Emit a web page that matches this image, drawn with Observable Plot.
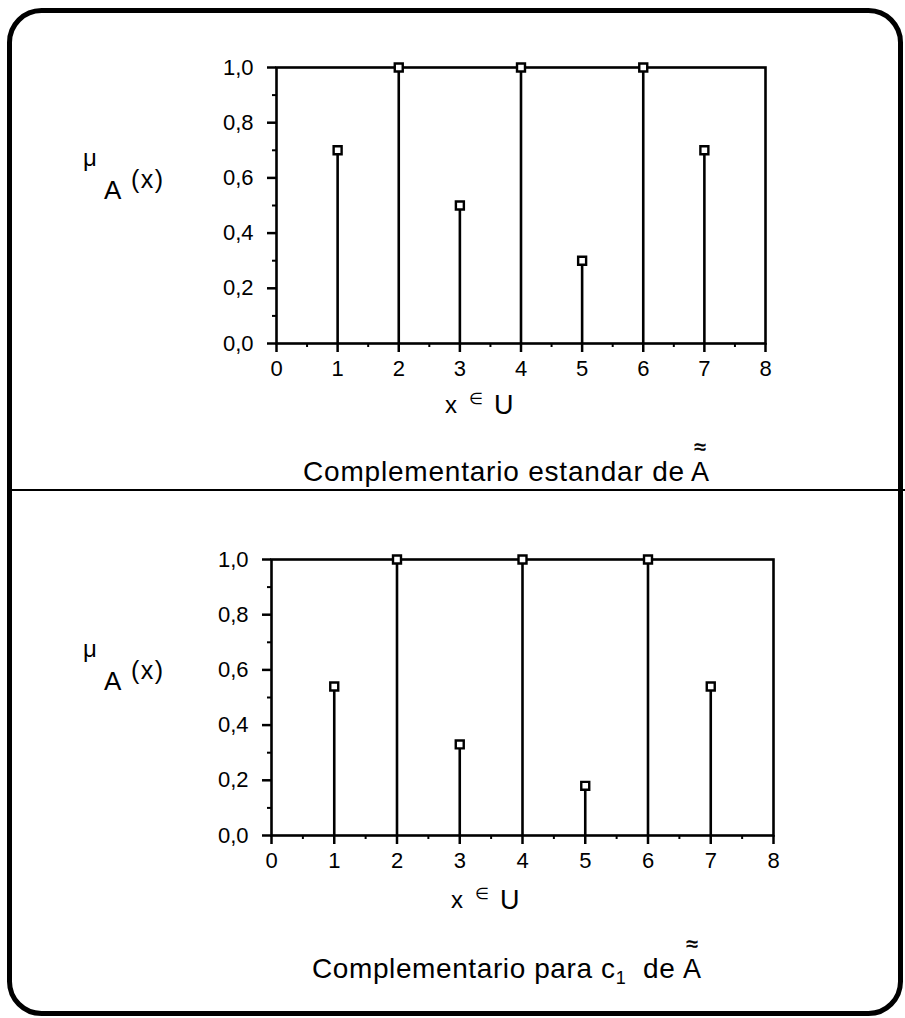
<!DOCTYPE html>
<html><head><meta charset="utf-8">
<script src="https://cdn.jsdelivr.net/npm/d3@7"></script>
<script src="https://cdn.jsdelivr.net/npm/@observablehq/plot@0.6"></script>
<style>
body{margin:0;background:#fff;}
#page{position:relative;width:905px;height:1018px;overflow:hidden;font-family:"Liberation Sans",Arial,Helvetica,sans-serif;color:#000;}
#page > svg{position:absolute;}
</style></head><body><div id="page"></div>
<script>
// ---- data ----
const xs = [1, 2, 3, 4, 5, 6, 7];
const standardValues = [0.7, 1, 0.5, 1, 0.3, 1, 0.7];
const c1Values = [0.54, 1, 0.33, 1, 0.18, 1, 0.54];
const xTicks = [0, 1, 2, 3, 4, 5, 6, 7, 8];
const xMinorTicks = [0.5, 1.5, 2.5, 3.5, 4.5, 5.5, 6.5, 7.5];
const yTicks = [0, 0.2, 0.4, 0.6, 0.8, 1.0];
const yMinorTicks = [0.1, 0.3, 0.5, 0.7, 0.9];
const captionTop = "Complementario estandar de";
const captionBottom = ["Complementario para c", "1", "  de"];

const FONT = '"Liberation Sans", Arial, Helvetica, sans-serif';
const page = document.getElementById("page");
const fmtY = d => d.toFixed(1).replace(".", ",");

// ---- decoration layer (border, divider, labels) ----
const deco = d3.select(page).append("svg")
  .attr("width", 905).attr("height", 1018)
  .style("left", "0px").style("top", "0px")
  .attr("font-family", FONT);

deco.append("rect").attr("x", 9.5).attr("y", 10.5).attr("width", 891).attr("height", 1003)
  .attr("rx", 32).attr("fill", "none").attr("stroke", "#000").attr("stroke-width", 5);
deco.append("line").attr("x1", 8).attr("x2", 905).attr("y1", 490).attr("y2", 490)
  .attr("stroke", "#000").attr("stroke-width", 2.2);

function yLabel(dy) {
  deco.append("text").attr("x", 83).attr("y", 166 + dy).attr("font-size", 24).text("μ");
  deco.append("text").attr("x", 104).attr("y", 199 + dy).attr("font-size", 26).text("A");
  deco.append("text").attr("x", 131).attr("y", 188 + dy).attr("font-size", 25).attr("letter-spacing", 1.5).text("(x)");
}
function xLabel(dx, dy) {
  deco.append("text").attr("x", 445 + dx).attr("y", 413 + dy).attr("font-size", 24).text("x");
  deco.append("text").attr("x", 469 + dx).attr("y", 404 + dy).attr("font-size", 16).text("∈");
  deco.append("text").attr("x", 494 + dx).attr("y", 414 + dy).attr("font-size", 27).text("U");
}
function tildeA(x, y) {
  deco.append("text").attr("x", x).attr("y", y).attr("font-size", 27).text("A");
  deco.append("text").attr("x", x + 9).attr("y", y - 27).attr("font-size", 21)
    .attr("stroke", "#000").attr("stroke-width", 0.6)
    .attr("text-anchor", "middle").text("≈");
}
yLabel(0);
yLabel(491);
xLabel(0, 0);
xLabel(6, 495);

// captions
deco.append("text").attr("x", 303).attr("y", 481).attr("font-size", 28).attr("letter-spacing", 0.8).text(captionTop);
tildeA(691, 481);
const cb = deco.append("text").attr("x", 312).attr("y", 978).attr("font-size", 28).attr("letter-spacing", 0.6)
  .attr("xml:space", "preserve").style("white-space", "pre");
cb.append("tspan").text(captionBottom[0]);
cb.append("tspan").attr("font-size", 18).attr("dy", 6).text(captionBottom[1]);
cb.append("tspan").attr("dy", -6).text(captionBottom[2]);
tildeA(683, 978);

// ---- charts ----
function chart(values, f) {
  const mL = 90, mR = 30, mT = 20, mB = 50;
  const w = f.x1 - f.x0, h = f.y1 - f.y0;
  const data = xs.map((x, i) => ({x, y: values[i]}));
  const p = Plot.plot({
    width: mL + w + mR, height: mT + h + mB,
    marginLeft: mL, marginRight: mR, marginTop: mT, marginBottom: mB,
    x: {domain: [0, 8], label: null},
    y: {domain: [0, 1], label: null},
    style: {fontFamily: FONT, fontSize: "22px", color: "#000", background: "transparent", overflow: "visible"},
    marks: [
      Plot.axisY(yMinorTicks, {tickSize: 4, tickFormat: () => "", strokeWidth: 2, label: null}),
      Plot.axisY(yTicks, {tickSize: 9, tickPadding: 14, strokeWidth: 2.5, tickFormat: fmtY, label: null, fontSize: 22}),
      Plot.axisX(xMinorTicks, {tickSize: 4, tickFormat: () => "", strokeWidth: 2, label: null}),
      Plot.axisX(xTicks, {tickSize: 9, tickPadding: 8, strokeWidth: 2.5, tickFormat: d => String(d), label: null, fontSize: 22}),
      Plot.ruleX(data, {x: "x", y1: 0, y2: "y", strokeWidth: 2.6, stroke: "#000"}),
      Plot.frame({strokeWidth: 2.6, stroke: "#000"}),
      Plot.dot(data, {x: "x", y: "y", symbol: "square", r: 4.5, fill: "white", stroke: "#000", strokeWidth: 2.4})
    ]
  });
  p.style.position = "absolute";
  p.style.left = (f.x0 - mL) + "px";
  p.style.top = (f.y0 - mT) + "px";
  page.appendChild(p);
}
chart(standardValues, {x0: 276, x1: 765, y0: 67, y1: 343});
chart(c1Values, {x0: 271, x1: 773, y0: 559, y1: 835});
</script>
</body></html>
